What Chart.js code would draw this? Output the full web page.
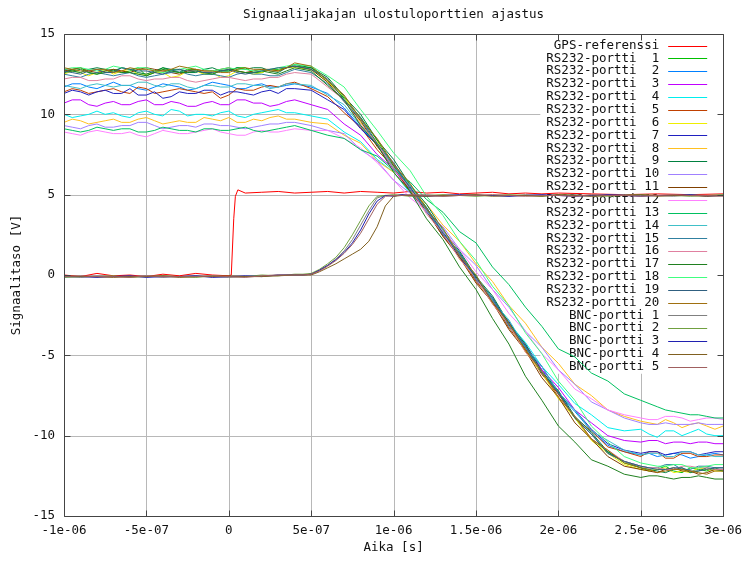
<!DOCTYPE html>
<html>
<head>
<meta charset="utf-8">
<script src="https://cdn.jsdelivr.net/npm/chart.js@4/dist/chart.umd.min.js"></script>
<style>
  html, body { margin: 0; padding: 0; background: #fff; }
  canvas { display: block; }
</style>
</head>
<body>
<canvas id="chart" width="749" height="561"></canvas>
<script>
// ---------- Data ----------
const X_TICK_LABELS = ["-1e-06", "-5e-07", "0", "5e-07", "1e-06", "1.5e-06", "2e-06", "2.5e-06", "3e-06"];
const Y_TICK_LABELS = ["-15", "-10", "-5", "0", "5", "10", "15"];

// aika mikrosekunteina
const T_GPS = [-1.0,-0.9,-0.8,-0.7,-0.6,-0.5,-0.4,-0.3,-0.2,-0.1,0.0,0.015,0.03,0.04,0.055,0.1,
  0.2,0.3,0.4,0.5,0.6,0.7,0.8,0.9,1.0,1.1,1.2,1.3,1.4,1.5,1.6,1.7,1.8,1.9,2.0,2.2,2.4,2.6,2.8,3.0];
const GPS_REF = [0.0,-0.1,0.1,-0.05,0.0,-0.1,0.05,-0.05,0.1,0.0,-0.05,0.0,3.5,4.9,5.3,5.1,
  5.15,5.2,5.1,5.15,5.2,5.1,5.2,5.15,5.1,5.2,5.1,5.15,5.05,5.1,5.15,5.05,5.1,5.05,5.1,5.05,5.0,5.05,5.0,5.05];

const T_BNC = [-1.0,-0.9,-0.8,-0.7,-0.6,-0.5,-0.4,-0.3,-0.2,-0.1,0.0,0.1,0.2,0.3,0.4,
  0.45,0.5,0.55,0.6,0.65,0.7,0.75,0.8,0.85,0.9,0.95,1.0,1.05,
  1.1,1.2,1.3,1.4,1.5,1.6,1.7,1.8,1.9,2.0,2.1,2.2,2.3,2.4,2.5,2.6,2.7,2.8,2.9,3.0];
const BNC_1 = [-0.1,-0.15,-0.05,-0.1,-0.1,-0.05,-0.15,-0.1,-0.05,-0.1,-0.15,-0.1,-0.05,0.0,0.0,
  0.0,0.05,0.3,0.6,1.0,1.5,2.2,3.1,4.0,4.8,4.95,4.95,5.0,
  4.95,5.0,4.9,4.95,5.0,4.95,4.9,5.0,4.95,4.95,5.0,4.9,4.95,5.0,4.95,4.95,4.9,5.0,4.95,4.95];
const BNC_2 = [-0.15,-0.1,-0.1,-0.05,-0.15,-0.1,-0.05,-0.1,-0.15,-0.05,-0.1,-0.1,0.0,-0.05,0.05,
  0.05,0.1,0.35,0.7,1.1,1.7,2.5,3.4,4.3,4.9,4.95,5.0,4.95,
  4.9,4.95,5.0,4.95,4.9,4.95,5.0,4.95,4.9,5.0,4.95,4.95,4.9,4.95,5.0,4.95,4.95,4.9,4.95,5.0];
const BNC_3 = [-0.1,-0.1,-0.15,-0.1,-0.05,-0.15,-0.1,-0.1,-0.05,-0.15,-0.1,-0.05,-0.1,0.0,0.0,
  0.0,0.05,0.3,0.6,0.95,1.4,2.0,2.8,3.8,4.6,4.95,4.9,5.0,
  4.95,4.9,4.95,5.0,4.95,4.95,4.9,4.95,5.0,4.95,4.9,4.95,5.0,4.95,4.9,4.95,4.95,5.0,4.9,4.95];
const BNC_4 = [-0.05,-0.1,-0.1,-0.15,-0.1,-0.1,-0.05,-0.15,-0.1,-0.1,-0.05,-0.1,-0.1,-0.05,0.0,
  0.0,0.0,0.2,0.45,0.7,1.0,1.3,1.6,2.1,3.0,4.3,4.9,4.95,
  4.95,4.9,4.95,4.95,5.0,4.9,4.95,4.95,4.9,5.0,4.95,4.9,4.95,4.95,5.0,4.9,4.95,4.95,4.9,4.95];
const BNC_5 = [-0.1,-0.05,-0.1,-0.1,-0.15,-0.05,-0.1,-0.1,-0.1,-0.05,-0.1,-0.15,-0.05,0.0,0.0,
  0.0,0.05,0.25,0.55,0.9,1.35,1.9,2.6,3.5,4.4,4.9,4.95,4.95,
  5.0,4.95,4.9,4.95,4.95,5.0,4.95,4.9,4.95,4.95,4.9,5.0,4.95,4.95,4.9,4.95,5.0,4.95,4.95,4.9];

const T_RS = [-1.0,-0.95,-0.9,-0.85,-0.8,-0.75,-0.7,-0.65,-0.6,-0.55,-0.5,-0.45,-0.4,-0.35,-0.3,
  -0.25,-0.2,-0.15,-0.1,-0.05,0.0,0.05,0.1,0.15,0.2,0.25,0.3,0.35,0.4,
  0.5,0.6,0.7,0.8,0.9,1.0,1.1,1.2,1.3,1.4,1.5,1.6,1.7,1.8,1.9,2.0,2.1,2.2,2.3,2.4,
  2.5,2.55,2.6,2.65,2.7,2.75,2.8,2.85,2.9,2.95,3.0];
const RS232_1 = [12.6,12.8,12.9,12.6,12.5,12.7,12.8,12.6,12.7,12.9,12.4,12.6,12.9,12.7,12.6,
  12.8,12.8,12.5,12.5,12.7,12.7,12.9,12.9,12.6,12.6,12.8,12.8,12.9,13.0,
  12.9,12.1,11.0,9.8,8.4,6.8,5.6,4.2,2.6,1.1,-0.1,-1.7,-3.1,-4.6,-6.1,-7.4,-8.9,-10.2,-11.0,-11.7,
  -12.0,-12.2,-12.1,-11.9,-12.2,-12.3,-12.0,-12.1,-12.2,-12.0,-12.2];
const RS232_2 = [11.7,11.9,11.9,11.7,11.6,11.8,12.0,11.8,11.8,11.6,11.5,11.7,11.9,11.8,11.7,
  11.5,11.6,11.8,12.0,11.9,11.8,11.6,11.6,11.8,11.9,11.7,11.7,11.8,11.9,
  11.7,11.3,10.4,9.2,8.1,6.6,5.3,4.1,2.5,1.3,-0.3,-1.6,-3.1,-4.4,-5.9,-7.4,-8.5,-9.7,-10.6,-11.0,
  -11.2,-11.1,-11.3,-11.2,-11.1,-11.2,-11.4,-11.3,-11.2,-11.1,-11.2];
const RS232_3 = [10.7,10.9,10.9,10.6,10.5,10.7,10.8,10.6,10.6,10.8,10.9,10.6,10.6,10.8,10.7,
  10.5,10.5,10.7,10.8,10.6,10.6,10.9,10.9,10.7,10.7,10.5,10.6,10.8,10.9,
  10.6,10.3,9.4,8.7,7.5,6.6,5.2,4.1,2.5,1.3,-0.3,-1.5,-3.1,-4.3,-5.9,-7.0,-8.4,-9.2,-10.0,-10.3,
  -10.4,-10.3,-10.3,-10.5,-10.4,-10.4,-10.5,-10.4,-10.4,-10.5,-10.5];
const RS232_4 = [10.0,9.8,9.9,10.0,10.2,10.0,10.1,9.9,9.8,10.1,10.2,10.0,9.9,10.3,10.2,
  9.9,10.0,10.0,9.9,10.1,10.2,9.9,9.8,10.0,10.1,10.2,10.3,10.1,10.1,
  9.9,9.7,8.9,8.3,7.2,6.4,5.1,4.1,2.6,1.4,-0.2,-1.4,-3.0,-4.2,-5.7,-6.8,-8.0,-8.7,-9.5,-9.7,
  -9.6,-9.9,-10.1,-9.7,-9.7,-10.0,-9.8,-9.6,-9.9,-10.0,-10.0];
const RS232_5 = [11.4,11.6,11.5,11.3,11.4,11.5,11.6,11.4,11.3,11.7,11.6,11.3,11.4,11.5,11.6,
  11.5,11.4,11.3,11.4,11.0,11.2,11.6,11.5,11.5,11.7,11.8,11.7,11.9,12.0,
  11.6,11.1,10.1,9.2,7.8,6.7,5.2,4.0,2.4,1.2,-0.4,-1.6,-3.3,-4.6,-6.2,-7.4,-8.9,-9.7,-10.7,-11.0,
  -11.3,-11.0,-11.0,-11.4,-11.4,-11.1,-11.1,-11.3,-11.3,-11.2,-11.2];
const RS232_6 = [12.5,12.7,12.6,12.4,12.6,12.8,12.5,12.7,12.8,12.5,12.5,12.6,12.6,12.3,12.4,
  12.7,12.7,12.5,12.6,12.3,12.4,12.7,12.6,12.5,12.6,12.8,12.7,12.9,12.9,
  12.8,12.0,11.1,9.5,8.3,6.7,5.5,3.9,2.7,1.0,-0.2,-1.8,-3.1,-4.8,-6.1,-7.7,-8.9,-10.3,-11.1,-11.8,
  -12.1,-12.2,-12.1,-12.0,-12.3,-12.2,-12.3,-12.0,-12.1,-12.2,-12.2];
const RS232_7 = [11.3,11.5,11.4,11.2,11.4,11.5,11.3,11.3,11.6,11.2,11.2,11.4,11.0,11.1,11.4,
  11.3,11.3,11.5,11.5,11.2,11.4,11.4,11.3,11.2,11.4,11.5,11.3,11.6,11.6,
  11.5,10.9,10.3,9.1,8.1,6.6,5.5,3.9,2.7,1.1,-0.1,-1.7,-2.9,-4.5,-5.7,-7.3,-8.4,-9.6,-10.5,-10.9,
  -11.1,-11.0,-11.0,-11.2,-11.1,-11.0,-11.0,-11.2,-11.1,-11.0,-11.0];
const RS232_8 = [9.5,9.7,9.6,9.4,9.5,9.6,9.7,9.5,9.5,9.7,9.8,9.6,9.4,9.5,9.6,
  9.5,9.5,9.8,9.7,9.6,9.8,9.5,9.5,9.7,9.6,9.8,9.9,9.7,9.7,
  9.5,9.4,8.7,8.2,7.1,6.4,5.2,4.4,3.1,2.1,0.7,-0.4,-1.9,-3.0,-4.5,-5.5,-6.8,-7.5,-8.4,-8.8,
  -9.1,-9.2,-9.3,-9.0,-9.2,-9.5,-9.3,-9.2,-9.4,-9.6,-9.4];
const RS232_9 = [12.8,12.7,12.6,12.8,12.9,12.8,12.7,12.9,12.8,12.6,12.5,12.7,12.9,12.8,12.8,
  12.6,12.6,12.8,12.9,12.7,12.7,12.9,12.8,12.9,12.9,12.7,12.6,12.9,13.1,
  12.9,12.3,11.1,10.0,8.4,7.2,5.6,4.4,2.8,1.5,-0.1,-1.3,-3.0,-4.3,-6.0,-7.2,-8.8,-9.8,-11.0,-11.6,
  -12.0,-12.1,-12.2,-12.3,-12.1,-12.0,-12.3,-12.2,-12.0,-12.1,-12.2];
const RS232_10 = [9.3,9.2,9.1,9.3,9.4,9.2,9.2,9.3,9.3,9.5,9.5,9.3,9.1,9.2,9.3,
  9.3,9.2,9.4,9.4,9.3,9.3,9.2,9.1,9.2,9.3,9.4,9.4,9.5,9.5,
  9.3,9.0,8.8,7.8,7.1,5.9,5.1,3.9,3.0,1.6,0.6,-0.9,-2.0,-3.5,-4.5,-5.9,-6.8,-7.9,-8.4,-8.9,
  -9.2,-9.3,-9.3,-9.2,-9.3,-9.3,-9.3,-9.2,-9.3,-9.3,-9.3];
const RS232_11 = [12.7,12.8,12.9,12.7,12.6,12.7,12.8,12.7,12.6,12.8,12.9,12.8,12.7,12.6,12.5,
  12.7,12.8,12.7,12.7,12.8,12.9,12.7,12.6,12.7,12.8,12.8,12.7,12.9,13.0,
  12.8,12.0,10.8,9.6,8.0,6.8,5.2,4.0,2.4,1.1,-0.5,-1.7,-3.4,-4.7,-6.4,-7.6,-9.2,-10.2,-11.3,-11.9,
  -12.1,-12.2,-12.3,-12.1,-12.0,-12.2,-12.2,-12.4,-12.3,-12.1,-12.1];
const RS232_12 = [8.9,8.8,8.7,8.9,9.0,8.9,8.8,8.8,8.9,8.7,8.6,8.8,9.0,8.9,8.8,
  8.8,8.9,9.0,9.1,8.9,8.8,8.7,8.7,8.9,9.0,8.9,8.9,9.0,9.1,
  9.0,9.0,8.5,7.9,7.0,5.9,4.8,4.0,2.7,1.6,0.2,-0.9,-2.4,-3.5,-4.9,-5.9,-7.1,-7.7,-8.4,-8.7,
  -8.9,-9.0,-9.0,-8.8,-8.8,-8.9,-9.1,-9.0,-8.9,-8.9,-9.0];
const RS232_13 = [9.1,9.0,8.9,9.0,9.2,9.1,9.0,9.1,9.1,8.9,8.9,9.0,9.2,9.1,9.0,
  9.0,8.9,9.1,9.1,9.0,9.0,9.1,9.2,9.0,8.9,9.0,9.1,9.2,9.3,
  9.0,8.7,8.5,7.8,7.4,6.5,5.8,4.7,3.9,2.7,2.0,0.5,-0.6,-2.0,-3.2,-4.6,-5.1,-6.1,-6.6,-7.4,
  -7.8,-8.0,-8.2,-8.4,-8.5,-8.6,-8.7,-8.7,-8.8,-8.9,-8.9];
const RS232_14 = [11.8,11.7,11.6,11.8,11.9,11.8,11.7,11.8,11.8,12.0,12.0,11.8,11.7,11.9,11.9,
  11.7,11.6,11.8,11.8,11.7,11.7,11.9,11.9,11.8,11.8,11.6,11.7,11.9,11.9,
  11.8,11.2,10.6,9.3,8.2,6.7,5.6,4.0,2.8,1.2,0.0,-1.6,-2.8,-4.5,-5.7,-7.3,-8.4,-9.7,-10.3,-10.9,
  -11.2,-11.1,-11.1,-11.3,-11.3,-11.0,-11.0,-11.2,-11.2,-11.3,-11.3];
const RS232_15 = [12.5,12.4,12.3,12.5,12.6,12.5,12.4,12.5,12.6,12.4,12.3,12.4,12.5,12.6,12.7,
  12.5,12.4,12.5,12.5,12.4,12.3,12.5,12.6,12.5,12.5,12.4,12.4,12.6,12.8,
  12.6,11.9,10.8,9.7,8.1,6.9,5.3,4.1,2.5,1.3,-0.3,-1.5,-3.2,-4.5,-6.1,-7.3,-8.9,-9.9,-11.1,-11.6,
  -11.9,-12.0,-12.0,-11.8,-11.8,-12.1,-12.1,-11.9,-11.9,-12.0,-12.0];
const RS232_16 = [12.2,12.3,12.3,12.1,12.1,12.2,12.2,12.4,12.4,12.2,12.1,12.2,12.2,12.3,12.3,
  12.1,12.0,12.1,12.2,12.3,12.3,12.2,12.1,12.2,12.2,12.3,12.3,12.5,12.6,
  12.5,11.7,10.9,9.4,8.2,6.6,5.4,3.8,2.6,1.0,-0.2,-1.8,-3.1,-4.8,-6.0,-7.6,-8.8,-10.2,-10.9,-11.6,
  -11.9,-12.0,-12.0,-12.1,-12.1,-11.9,-11.9,-12.0,-12.0,-12.1,-12.1];
const RS232_17 = [12.6,12.7,12.8,12.6,12.5,12.6,12.7,12.6,12.6,12.5,12.4,12.6,12.8,12.7,12.6,
  12.6,12.7,12.6,12.5,12.7,12.8,12.7,12.6,12.6,12.7,12.6,12.5,12.7,12.9,
  12.7,11.8,10.9,9.3,8.1,6.4,5.2,3.5,2.2,0.5,-0.9,-2.7,-4.3,-6.3,-7.8,-9.4,-10.4,-11.5,-11.9,-12.4,
  -12.6,-12.5,-12.5,-12.6,-12.7,-12.6,-12.6,-12.5,-12.6,-12.7,-12.7];
const RS232_18 = [12.8,12.9,12.9,12.8,12.7,12.8,13.0,12.9,12.8,12.9,12.9,12.7,12.6,12.7,12.8,
  12.9,13.0,12.8,12.7,12.8,12.9,12.8,12.8,12.7,12.7,12.8,12.9,13.0,13.1,
  13.0,12.4,11.7,10.3,9.0,7.6,6.5,4.9,3.7,2.1,0.9,-0.7,-1.9,-3.6,-4.9,-6.6,-7.8,-9.4,-10.4,-11.3,
  -11.7,-11.8,-11.9,-11.9,-11.8,-11.8,-12.0,-12.0,-11.9,-11.8,-11.8];
const RS232_19 = [12.7,12.6,12.5,12.7,12.8,12.6,12.6,12.9,12.8,12.7,12.7,12.6,12.5,12.7,12.8,
  12.7,12.7,12.6,12.6,12.7,12.8,12.6,12.5,12.6,12.7,12.8,12.9,12.9,13.0,
  12.8,12.2,10.9,9.8,8.2,7.0,5.4,4.2,2.6,1.4,-0.2,-1.4,-3.1,-4.4,-6.1,-7.3,-8.9,-9.9,-11.1,-11.6,
  -11.9,-12.0,-12.1,-12.1,-12.0,-12.0,-12.2,-12.2,-12.1,-12.0,-12.0];
const RS232_20 = [12.9,12.8,12.7,12.7,12.8,12.8,12.6,12.7,12.9,12.8,12.8,12.7,12.7,12.8,13.0,
  12.9,12.8,12.7,12.7,12.6,12.6,12.8,12.9,12.8,12.8,12.7,12.7,12.9,13.2,
  13.0,12.1,11.2,9.7,8.5,6.9,5.7,4.1,2.9,1.2,0.0,-1.7,-3.0,-4.7,-6.0,-7.6,-8.8,-10.2,-10.9,-11.7,
  -12.0,-12.1,-12.3,-12.2,-12.1,-12.1,-12.2,-12.3,-12.4,-12.2,-12.2];

const SERIES_LABELS = [
  "GPS-referenssi",
  "RS232-portti  1", "RS232-portti  2", "RS232-portti  3", "RS232-portti  4", "RS232-portti  5",
  "RS232-portti  6", "RS232-portti  7", "RS232-portti  8", "RS232-portti  9", "RS232-portti 10",
  "RS232-portti 11", "RS232-portti 12", "RS232-portti 13", "RS232-portti 14", "RS232-portti 15",
  "RS232-portti 16", "RS232-portti 17", "RS232-portti 18", "RS232-portti 19", "RS232-portti 20",
  "BNC-portti 1", "BNC-portti 2", "BNC-portti 3", "BNC-portti 4", "BNC-portti 5"
];
const SERIES_VALUES = [
  GPS_REF,
  RS232_1, RS232_2, RS232_3, RS232_4, RS232_5, RS232_6, RS232_7, RS232_8, RS232_9, RS232_10,
  RS232_11, RS232_12, RS232_13, RS232_14, RS232_15, RS232_16, RS232_17, RS232_18, RS232_19, RS232_20,
  BNC_1, BNC_2, BNC_3, BNC_4, BNC_5
];
const SERIES_TIMES = SERIES_VALUES.map((_, i) => (i === 0 ? T_GPS : i <= 20 ? T_RS : T_BNC));

// ---------- Styles ----------
const COLORS = [
  "#ff0000",
  "#00c000", "#0080ff", "#c000ff", "#00eeee", "#c04000",
  "#eeee00", "#2020c0", "#ffc020", "#008040", "#a080ff",
  "#804000", "#ff80ff", "#00c060", "#40c0c8", "#3080a0",
  "#e080a0", "#208020", "#40ff80", "#306080", "#a07010",
  "#808080", "#70a040", "#2020b0", "#806020", "#a06060"
];
const FONT_FAMILY = '"DejaVu Sans Mono", monospace';
const FONT_SIZE = 12.5;
const TEXT_COLOR = "#111";
const GRID_COLOR = "#b8b8b8";
const BORDER_COLOR = "#444";

// ---------- Helpers ----------
function toPoints(times, values) {
  const pts = [];
  for (let i = 0; i < Math.min(times.length, values.length); i++) {
    pts.push({ x: times[i], y: values[i] });
  }
  return pts;
}

const LEGEND = { rowH: 12.85, firstRow: 11.5, textRight: 64, lineStart: 55, lineEnd: 16 };

function legendBox(chart) {
  const { ctx, chartArea: a } = chart;
  ctx.save();
  ctx.font = `${FONT_SIZE}px ${FONT_FAMILY}`;
  const w = Math.max(...SERIES_LABELS.map((s) => ctx.measureText(s).width));
  ctx.restore();
  return {
    left: a.right - LEGEND.textRight - w - 6,
    bottom: a.top + LEGEND.firstRow + (SERIES_LABELS.length - 1) * LEGEND.rowH + 7,
  };
}

// gnuplot-tyylinen ruudukko, selite ja kehys
const framePlugin = {
  id: "frame",
  beforeDatasetsDraw(chart) {
    const { ctx, chartArea: a, scales } = chart;
    const sx = scales.x, sy = scales.y;
    const box = legendBox(chart);

    ctx.save();
    ctx.strokeStyle = GRID_COLOR;
    ctx.lineWidth = 1;
    ctx.beginPath();
    sx.ticks.forEach((t) => {
      if (t.value <= sx.min || t.value >= sx.max) return;
      const px = Math.round(sx.getPixelForValue(t.value)) + 0.5;
      const top = px > box.left ? box.bottom : a.top;
      ctx.moveTo(px, top);
      ctx.lineTo(px, a.bottom);
    });
    sy.ticks.forEach((t) => {
      if (t.value <= sy.min || t.value >= sy.max) return;
      const py = Math.round(sy.getPixelForValue(t.value)) + 0.5;
      const right = py < box.bottom ? box.left : a.right;
      ctx.moveTo(a.left, py);
      ctx.lineTo(right, py);
    });
    ctx.stroke();

    // selite
    ctx.font = `${FONT_SIZE}px ${FONT_FAMILY}`;
    ctx.textAlign = "right";
    ctx.textBaseline = "middle";
    chart.data.datasets.forEach((ds, i) => {
      const yy = a.top + LEGEND.firstRow + i * LEGEND.rowH;
      ctx.fillStyle = TEXT_COLOR;
      ctx.fillText(ds.label, a.right - LEGEND.textRight, yy);
      ctx.strokeStyle = ds.borderColor;
      ctx.beginPath();
      ctx.moveTo(a.right - LEGEND.lineStart, Math.round(yy) + 0.5);
      ctx.lineTo(a.right - LEGEND.lineEnd, Math.round(yy) + 0.5);
      ctx.stroke();
    });
    ctx.restore();
  },
  afterDatasetsDraw(chart) {
    const { ctx, chartArea: a, scales } = chart;
    const sx = scales.x, sy = scales.y;
    const L = Math.round(a.left) + 0.5, R = Math.round(a.right) + 0.5;
    const T = Math.round(a.top) + 0.5, B = Math.round(a.bottom) + 0.5;
    ctx.save();
    ctx.strokeStyle = BORDER_COLOR;
    ctx.lineWidth = 1;
    ctx.beginPath();
    ctx.rect(L, T, R - L, B - T);
    const tick = 6;
    sx.ticks.forEach((t) => {
      const px = Math.round(sx.getPixelForValue(t.value)) + 0.5;
      ctx.moveTo(px, B); ctx.lineTo(px, B - tick);
      ctx.moveTo(px, T); ctx.lineTo(px, T + tick);
    });
    sy.ticks.forEach((t) => {
      const py = Math.round(sy.getPixelForValue(t.value)) + 0.5;
      ctx.moveTo(L, py); ctx.lineTo(L + tick, py);
      ctx.moveTo(R, py); ctx.lineTo(R - tick, py);
    });
    ctx.stroke();
    ctx.restore();
  },
  afterDraw(chart) {
    const { ctx, chartArea: a } = chart;
    const cx = (a.left + a.right) / 2;
    ctx.save();
    ctx.font = `${FONT_SIZE}px ${FONT_FAMILY}`;
    ctx.fillStyle = TEXT_COLOR;
    ctx.textAlign = "center";
    ctx.textBaseline = "middle";
    ctx.fillText("Signaalijakajan ulostuloporttien ajastus", cx, 15);
    ctx.fillText("Aika [s]", cx, 548);
    ctx.translate(17, (a.top + a.bottom) / 2);
    ctx.rotate(-Math.PI / 2);
    ctx.fillText("Signaalitaso [V]", 0, 0);
    ctx.restore();
  },
};

// ---------- Chart ----------
const datasets = SERIES_VALUES.map((vals, i) => ({
  label: SERIES_LABELS[i],
  data: toPoints(SERIES_TIMES[i], vals),
  borderColor: COLORS[i],
  backgroundColor: COLORS[i],
  borderWidth: 1,
  pointRadius: 0,
  tension: 0,
  fill: false,
  order: SERIES_VALUES.length - i,
}));

const tickFont = { family: FONT_FAMILY, size: FONT_SIZE };

new Chart(document.getElementById("chart"), {
  type: "line",
  data: { datasets },
  options: {
    responsive: false,
    animation: false,
    events: [],
    layout: { padding: { left: 0, right: 24, top: 34, bottom: 0 } },
    plugins: {
      legend: { display: false },
      title: { display: false },
      tooltip: { enabled: false },
    },
    scales: {
      x: {
        type: "linear",
        min: -1,
        max: 3,
        grid: { display: false, drawTicks: false, tickLength: 0 },
        border: { display: false },
        ticks: {
          stepSize: 0.5,
          autoSkip: false,
          maxRotation: 0,
          padding: 7,
          color: TEXT_COLOR,
          font: tickFont,
          callback: (v, i) => X_TICK_LABELS[i],
        },
        afterFit(scale) { scale.height = 45; },
      },
      y: {
        type: "linear",
        min: -15,
        max: 15,
        grid: { display: false, drawTicks: false, tickLength: 0 },
        border: { display: false },
        ticks: {
          stepSize: 5,
          padding: 9,
          color: TEXT_COLOR,
          font: tickFont,
          callback: (v, i) => Y_TICK_LABELS[i],
        },
        afterFit(scale) { scale.width = 64; },
      },
    },
  },
  plugins: [framePlugin],
});
</script>
</body>
</html>
